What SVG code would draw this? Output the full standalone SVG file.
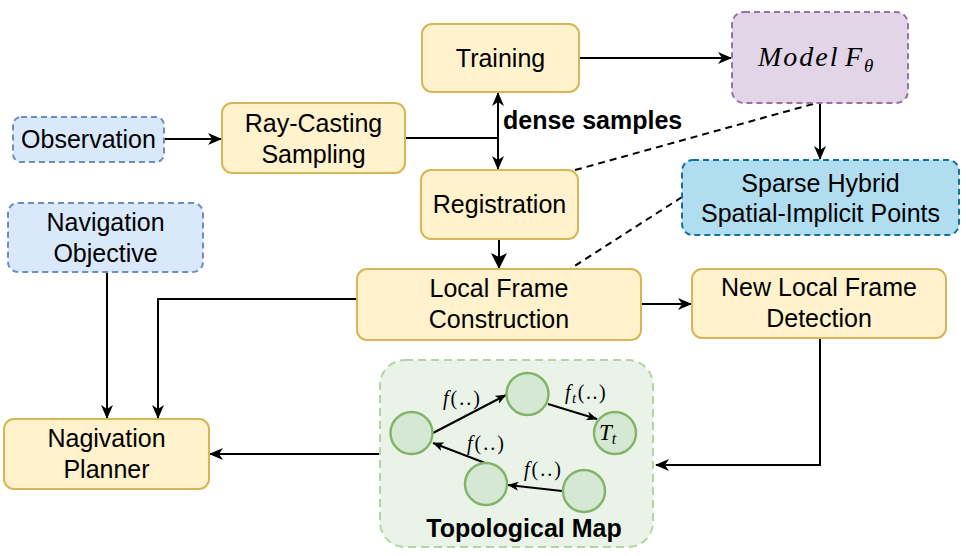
<svg xmlns="http://www.w3.org/2000/svg" width="966" height="556" viewBox="0 0 966 556">
<defs>
<marker id="arr" markerUnits="userSpaceOnUse" viewBox="0 0 14 12" markerWidth="14" markerHeight="12" refX="13" refY="6" orient="auto-start-reverse">
<path d="M0,0 L14,6 L0,12 L4,6 Z" fill="#000"/>
</marker>
<marker id="arrbig" markerUnits="userSpaceOnUse" viewBox="0 0 16 16" markerWidth="16" markerHeight="16" refX="15" refY="8" orient="auto">
<path d="M0,0 L16,8 L0,16 L4,8 Z" fill="#000"/>
</marker>
<marker id="arrs" markerUnits="userSpaceOnUse" viewBox="0 0 11 9" markerWidth="11" markerHeight="9" refX="10.5" refY="4.5" orient="auto">
<path d="M0,0 L11,4.5 L0,9 L3,4.5 Z" fill="#000"/>
</marker>
</defs>
<style>
.y{fill:#fff2cc;stroke:#d6b656;stroke-width:2}
.b{fill:#dae8fc;stroke:#6c8ebf;stroke-width:2;stroke-dasharray:6 4}
.p{fill:#e1d5e7;stroke:#9673a6;stroke-width:2;stroke-dasharray:6 4}
.s{fill:#b1ddf0;stroke:#10739e;stroke-width:2;stroke-dasharray:6 4}
.m{fill:#e9f3e8;stroke:#b5d4a3;stroke-width:2;stroke-dasharray:8 5}
.c{fill:#d5e8d4;stroke:#82b366;stroke-width:2.4}
text{font-family:"Liberation Sans",Arial,sans-serif;font-size:25px;fill:#000;text-anchor:middle}
.bold{font-weight:bold}
.math{font-family:"Liberation Serif","Times New Roman",serif;font-size:20px;text-anchor:start}
.conn path,.conn line{fill:none;stroke:#000;stroke-width:2}
.dash{stroke-dasharray:7 5}
</style>

<g id="connectors" class="conn">
<line x1="164" y1="139" x2="221" y2="139" marker-end="url(#arr)"/>
<path d="M405,138 L498,138"/>
<line x1="498" y1="93" x2="498" y2="169" marker-start="url(#arr)" marker-end="url(#arr)"/>
<line x1="579" y1="58" x2="731" y2="58" marker-end="url(#arr)"/>
<line x1="820" y1="103" x2="820" y2="159" marker-end="url(#arr)"/>
<line x1="499" y1="239" x2="499" y2="268" stroke-width="2.5" marker-end="url(#arrbig)"/>
<line x1="641" y1="304" x2="691" y2="304" marker-end="url(#arr)"/>
<path d="M820,338 L820,465 L656,465" marker-end="url(#arr)"/>
<path d="M357,299 L158,299 L158,418" marker-end="url(#arr)"/>
<path d="M107,272 L107,418" marker-end="url(#arr)"/>
<path d="M380,454 L210,454" marker-end="url(#arr)"/>
<line class="dash" x1="813" y1="104" x2="568" y2="172"/>
<line class="dash" x1="682" y1="197" x2="570" y2="269"/>
</g>

<g id="training"><rect class="y" x="422" y="24" width="157" height="68" rx="10"/><text x="500.5" y="67">Training</text></g>
<g id="model"><rect class="p" x="732" y="12" width="176" height="91" rx="12"/>
<text class="math" style="font-size:28px;font-style:italic"><tspan x="758" y="66" letter-spacing="2">Model</tspan><tspan x="845" y="66">F</tspan><tspan x="864" y="72" style="font-size:19px">θ</tspan></text></g>
<g id="observation"><rect class="b" x="13" y="117" width="151" height="45" rx="8"/><text x="88.5" y="148">Observation</text></g>
<g id="raycasting"><rect class="y" x="222" y="103" width="183" height="70" rx="10"/><text x="313.5" y="131.5">Ray-Casting</text><text x="313.5" y="162.5">Sampling</text></g>
<g id="dense-label"><text class="bold" x="503" y="129" style="text-anchor:start">dense samples</text></g>
<g id="registration"><rect class="y" x="421" y="170" width="157" height="69" rx="10"/><text x="499.5" y="213">Registration</text></g>
<g id="sparse"><rect class="s" x="682" y="160" width="277" height="75" rx="11"/><text x="820.5" y="192">Sparse Hybrid</text><text x="820.5" y="222">Spatial-Implicit Points</text></g>
<g id="nav-objective"><rect class="b" x="8" y="203" width="195" height="69" rx="10"/><text x="105.5" y="230.5">Navigation</text><text x="105.5" y="261.5">Objective</text></g>
<g id="local-frame"><rect class="y" x="357" y="269" width="284" height="71" rx="10"/><text x="499" y="297">Local Frame</text><text x="499" y="328">Construction</text></g>
<g id="new-local-frame"><rect class="y" x="692" y="269" width="254" height="69" rx="10"/><text x="819" y="296">New Local Frame</text><text x="819" y="327">Detection</text></g>
<g id="planner"><rect class="y" x="4" y="419" width="205" height="70" rx="10"/><text x="106.5" y="447">Nagivation</text><text x="106.5" y="478">Planner</text></g>

<g id="topological-map">
<rect class="m" x="380" y="360" width="273" height="187" rx="25"/>
<g class="conn">
<line x1="433" y1="433" x2="506" y2="395" stroke-width="1.5" marker-end="url(#arrs)"/>
<line x1="548" y1="404" x2="597" y2="419" stroke-width="1.5" marker-end="url(#arrs)"/>
<line x1="485" y1="463" x2="433" y2="443" stroke-width="1.5" marker-end="url(#arrs)"/>
<line x1="562" y1="491" x2="508" y2="485" stroke-width="1.5" marker-end="url(#arrs)"/>
</g>
<circle class="c" cx="411.5" cy="433" r="21"/>
<circle class="c" cx="527.5" cy="394" r="21"/>
<circle class="c" cx="615" cy="433" r="21"/>
<circle class="c" cx="486" cy="484" r="21"/>
<circle class="c" cx="584" cy="491" r="21"/>
<text class="math" x="443" y="405" letter-spacing="2"><tspan font-style="italic">f</tspan>(..)</text>
<text class="math" x="565" y="399" letter-spacing="1.5"><tspan font-style="italic">f</tspan><tspan font-style="italic" font-size="15" dy="4">t</tspan><tspan font-size="20" dy="-4">(..)</tspan></text>
<text class="math" x="467" y="450" letter-spacing="2"><tspan font-style="italic">f</tspan>(..)</text>
<text class="math" x="524" y="476" letter-spacing="2"><tspan font-style="italic">f</tspan>(..)</text>
<text class="math" x="599" y="440" style="font-size:23px"><tspan font-style="italic">T</tspan><tspan font-style="italic" font-size="16" dy="4">t</tspan></text>
<text class="bold" x="524" y="537">Topological Map</text>
</g>
</svg>
